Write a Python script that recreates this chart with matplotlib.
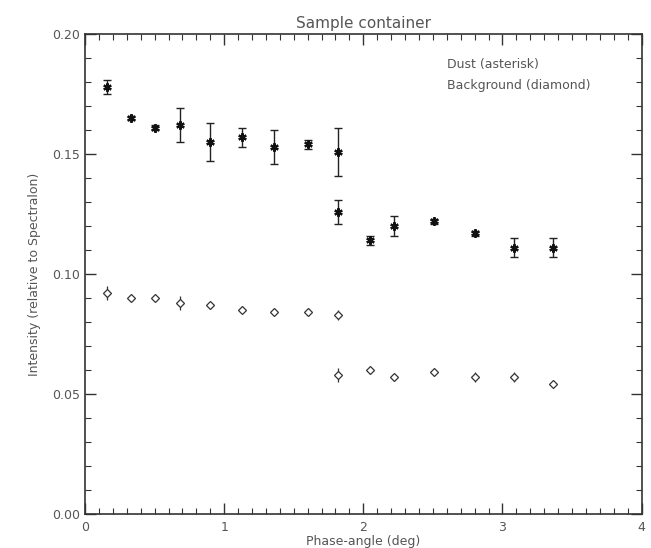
import numpy as np
import matplotlib
matplotlib.use("Agg")
import matplotlib.pyplot as plt
from matplotlib.ticker import MultipleLocator

# phase angle (deg) and intensity relative to Spectralon
dust_x = [0.16, 0.33, 0.50, 0.68, 0.90, 1.13, 1.36, 1.60, 1.82, 1.82, 2.05, 2.22, 2.51, 2.80, 3.08, 3.36]
dust_y = [0.178, 0.165, 0.161, 0.162, 0.155, 0.157, 0.153, 0.154, 0.151, 0.126, 0.114, 0.120, 0.122, 0.117, 0.111, 0.111]
dust_err = [0.003, 0.001, 0.001, 0.007, 0.008, 0.004, 0.007, 0.002, 0.010, 0.005, 0.002, 0.004, 0.001, 0.001, 0.004, 0.004]

bg_x = [0.16, 0.33, 0.50, 0.68, 0.90, 1.13, 1.36, 1.60, 1.82, 1.82, 2.05, 2.22, 2.51, 2.80, 3.08, 3.36]
bg_y = [0.092, 0.090, 0.090, 0.088, 0.087, 0.085, 0.084, 0.084, 0.083, 0.058, 0.060, 0.057, 0.059, 0.057, 0.057, 0.054]
bg_err = [0.003, 0.001, 0.001, 0.003, 0.001, 0.001, 0.001, 0.001, 0.002, 0.003, 0.001, 0.001, 0.001, 0.002, 0.002, 0.001]

txt = '#555555'

fig = plt.figure(figsize=(6.51, 5.48), dpi=100)
ax = fig.add_axes([0.1306, 0.062, 0.855, 0.876])

ax.errorbar(dust_x, dust_y, yerr=dust_err, fmt='none', ecolor='#222222',
            elinewidth=1.0, capsize=3, capthick=1.0)
ax.plot(dust_x, dust_y, linestyle='none', marker=(6, 2, 0), markersize=6,
        markeredgewidth=1.6, color='#111111')

ax.errorbar(bg_x, bg_y, yerr=bg_err, fmt='none', ecolor='#333333',
            elinewidth=0.9, capsize=0)
ax.plot(bg_x, bg_y, linestyle='none', marker='D', markersize=4,
        markerfacecolor='white', markeredgecolor='#333333', markeredgewidth=0.9)

ax.set_xlim(0, 4)
ax.set_ylim(0, 0.20)
ax.xaxis.set_major_locator(MultipleLocator(1))
ax.xaxis.set_minor_locator(MultipleLocator(0.1))
ax.yaxis.set_major_locator(MultipleLocator(0.05))
ax.yaxis.set_minor_locator(MultipleLocator(0.01))
ax.xaxis.set_major_formatter(matplotlib.ticker.FormatStrFormatter('%d'))
ax.yaxis.set_major_formatter(matplotlib.ticker.FormatStrFormatter('%.2f'))
ax.tick_params(which='both', direction='in', top=True, right=True,
               colors='#333333', labelcolor=txt, labelsize=9)
ax.tick_params(which='major', length=8, width=1)
ax.tick_params(which='minor', length=4, width=0.8)
ax.tick_params(axis='x', pad=5)
for s in ax.spines.values():
    s.set_color('#333333')
    s.set_linewidth(1.2)

ax.set_xlabel('Phase-angle (deg)', color=txt, fontsize=9, labelpad=1)
ax.set_ylabel('Intensity (relative to Spectralon)', color=txt, fontsize=9, labelpad=8)
ax.set_title('Sample container', color=txt, fontsize=11, pad=4)

ax.text(0.65, 0.93, 'Dust (asterisk)', transform=ax.transAxes, color=txt, fontsize=9)
ax.text(0.65, 0.885, 'Background (diamond)', transform=ax.transAxes, color=txt, fontsize=9)

fig.savefig('out.png', dpi=100)
